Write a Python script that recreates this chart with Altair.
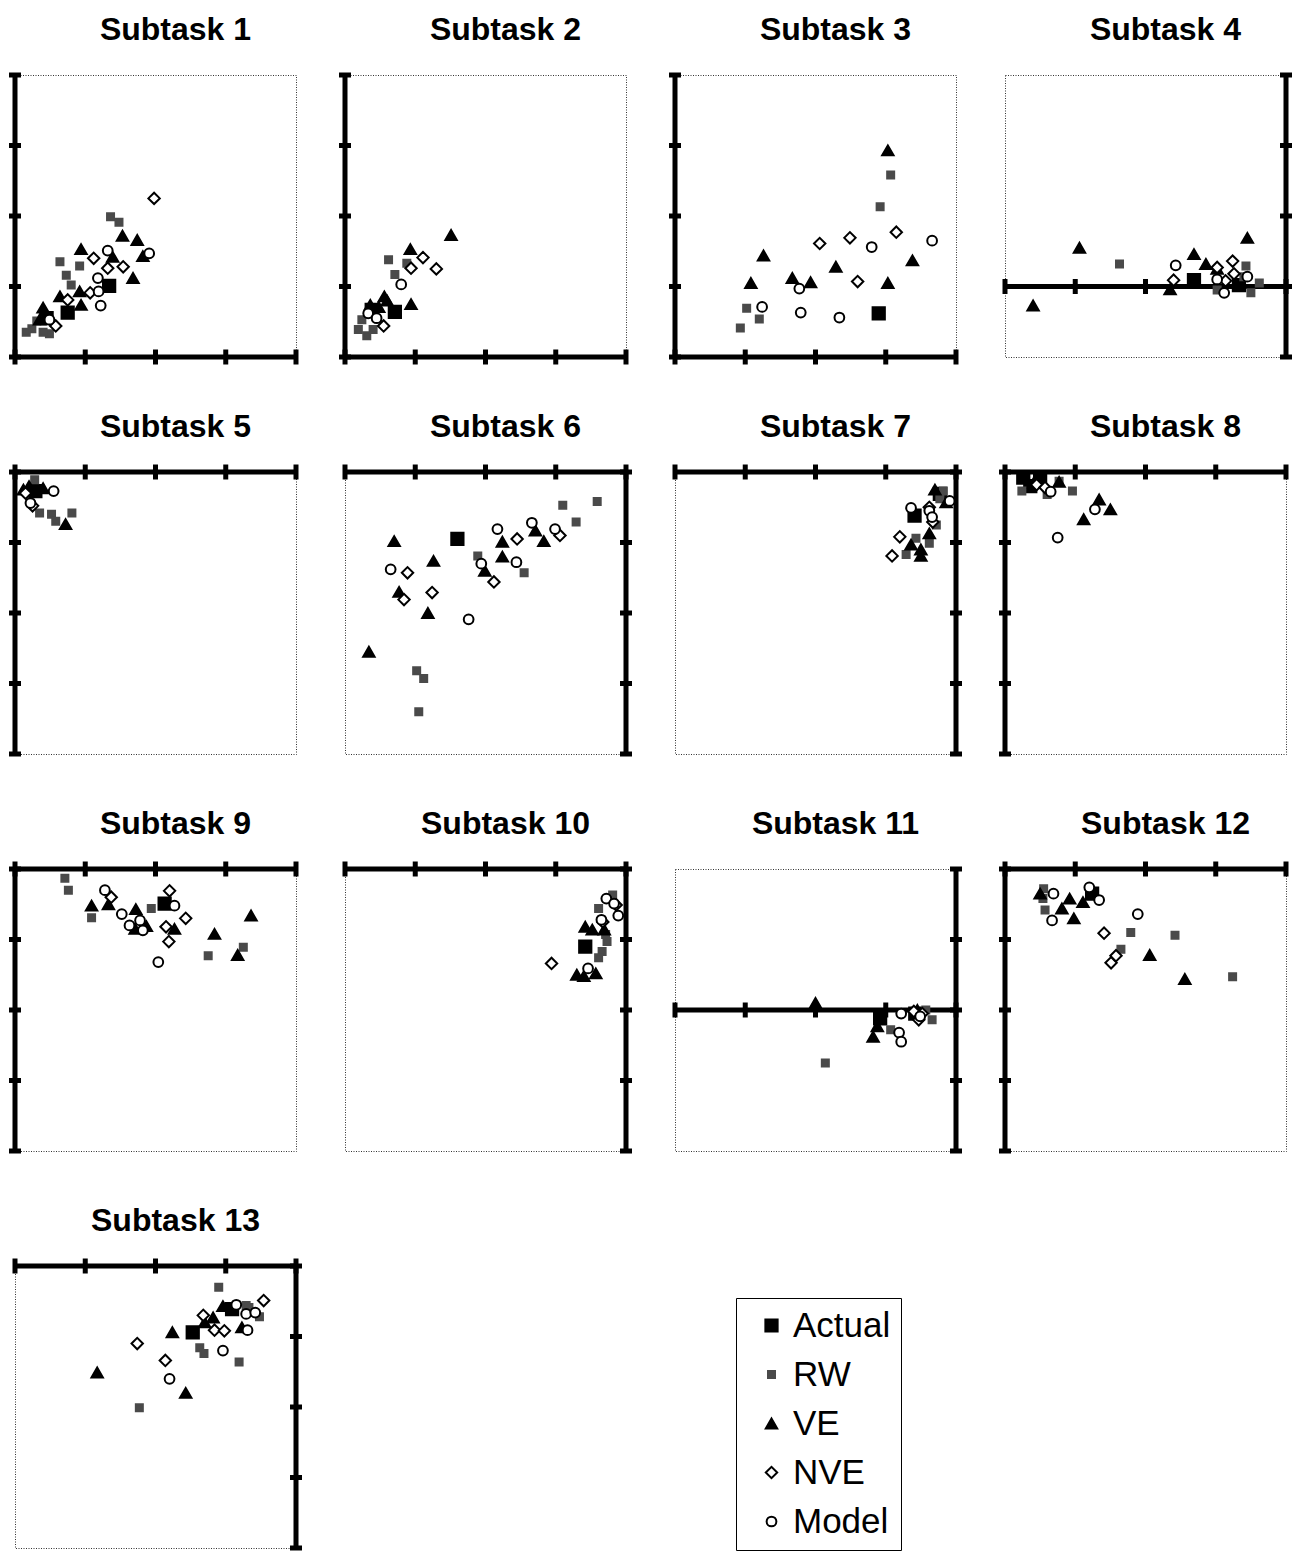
import altair as alt
import pandas as pd

SERIES = ["Actual", "RW", "VE", "NVE", "Model"]
SHAPES = ["square", "square", "triangle-up", "diamond", "circle"]
FILLS = ["#000000", "#4a4a4a", "#000000", "#ffffff", "#ffffff"]
STROKES = ["#000000", "#4a4a4a", "#000000", "#000000", "#000000"]
SIZES = [150, 49, 130, 130, 95]

TITLES = ["Subtask 1", "Subtask 2", "Subtask 3", "Subtask 4", "Subtask 5",
          "Subtask 6", "Subtask 7", "Subtask 8", "Subtask 9", "Subtask 10",
          "Subtask 11", "Subtask 12", "Subtask 13"]

X_DOMAINS = [(0, 4), (0, 4), (0, 4), (-4, 0), (0, 4), (-4, 0), (-4, 0),
             (0, 4), (0, 4), (-4, 0), (-4, 0), (0, 4), (-4, 0)]
Y_DOMAINS = [(0, 4), (0, 4), (0, 4), (-1, 3), (-4, 0), (-4, 0), (-4, 0),
             (-4, 0), (-4, 0), (-4, 0), (-2, 2), (-4, 0), (-4, 0)]

P1 = {
    "Actual": [(1.34, 1.01), (0.75, 0.63), (0.45, 0.55)],
    "RW": [(1.36, 1.99), (1.48, 1.91), (0.64, 1.35), (0.92, 1.29), (0.73, 1.16), (0.80, 1.02),
           (0.24, 0.40), (0.49, 0.33), (0.31, 0.51), (0.16, 0.35), (0.40, 0.35)],
    "VE": [(1.53, 1.72), (1.74, 1.66), (0.94, 1.53), (1.39, 1.42), (1.82, 1.43), (1.68, 1.12),
           (0.92, 0.93), (0.94, 0.74), (0.40, 0.70), (0.64, 0.86), (0.35, 0.53)],
    "NVE": [(1.98, 2.25), (1.12, 1.40), (1.32, 1.26), (1.54, 1.28), (1.07, 0.91), (0.75, 0.81), (0.58, 0.44)],
    "Model": [(1.91, 1.47), (1.19, 0.93), (1.22, 0.73), (1.32, 1.51), (0.49, 0.53), (1.18, 1.12)],
}
P2 = {
    "Actual": [(0.71, 0.64), (0.38, 0.67)],
    "RW": [(0.62, 1.38), (0.88, 1.33), (0.71, 1.17), (0.19, 0.39), (0.31, 0.30), (0.40, 0.39), (0.24, 0.53)],
    "VE": [(1.51, 1.73), (0.93, 1.53), (0.94, 0.75), (0.56, 0.86), (0.48, 0.71), (0.36, 0.74), (0.60, 0.80)],
    "NVE": [(1.11, 1.41), (1.30, 1.25), (0.94, 1.26), (0.55, 0.44)],
    "Model": [(0.80, 1.03), (0.33, 0.62), (0.45, 0.55)],
}
P3 = {
    "Actual": [(2.90, 0.62)],
    "RW": [(3.07, 2.58), (2.92, 2.13), (1.02, 0.69), (1.20, 0.54), (0.93, 0.41)],
    "VE": [(3.03, 2.93), (1.26, 1.44), (1.08, 1.05), (1.67, 1.12), (1.93, 1.06), (2.29, 1.28),
           (3.38, 1.37), (3.03, 1.05)],
    "NVE": [(2.06, 1.61), (2.49, 1.69), (3.15, 1.77), (2.60, 1.07)],
    "Model": [(3.66, 1.65), (2.80, 1.56), (1.77, 0.97), (1.24, 0.71), (1.79, 0.63), (2.34, 0.56)],
}
P4 = {
    "Actual": [(-1.31, 0.09), (-0.67, 0.02)],
    "RW": [(-2.37, 0.32), (-0.57, 0.29), (-0.50, -0.09), (-0.38, 0.05), (-0.60, 0.14), (-0.98, -0.05)],
    "VE": [(-3.60, -0.27), (-2.94, 0.55), (-1.31, 0.46), (-0.55, 0.69), (-1.14, 0.32), (-1.65, -0.04),
           (-0.98, 0.25)],
    "NVE": [(-1.60, 0.09), (-0.76, 0.36), (-0.74, 0.18), (-0.86, 0.08), (-0.98, 0.27)],
    "Model": [(-1.57, 0.30), (-0.88, -0.09), (-0.55, 0.14), (-0.98, 0.10)],
}
P5 = {
    "Actual": [(0.29, -0.27)],
    "RW": [(0.28, -0.11), (0.35, -0.58), (0.52, -0.60), (0.81, -0.58), (0.58, -0.70)],
    "VE": [(0.72, -0.74), (0.12, -0.25), (0.40, -0.23), (0.20, -0.20)],
    "NVE": [(0.25, -0.48), (0.15, -0.30)],
    "Model": [(0.55, -0.27), (0.22, -0.44)],
}
P6 = {
    "Actual": [(-2.40, -0.95)],
    "RW": [(-0.41, -0.42), (-0.90, -0.47), (-0.71, -0.71), (-1.45, -1.43), (-2.11, -1.19),
           (-2.98, -2.82), (-2.88, -2.93), (-2.95, -3.40)],
    "VE": [(-3.30, -0.98), (-2.74, -1.26), (-1.76, -0.99), (-1.76, -1.20), (-1.29, -0.83), (-1.17, -0.98),
           (-2.01, -1.40), (-3.23, -1.70), (-2.82, -2.00), (-3.66, -2.55)],
    "NVE": [(-3.11, -1.43), (-1.55, -0.95), (-0.94, -0.90), (-1.88, -1.56), (-2.76, -1.71), (-3.16, -1.81)],
    "Model": [(-3.35, -1.38), (-1.83, -0.81), (-1.34, -0.72), (-1.01, -0.81), (-1.56, -1.28),
              (-2.06, -1.30), (-2.24, -2.09)],
}
P7 = {
    "Actual": [(-0.59, -0.62), (-0.23, -0.31)],
    "RW": [(-0.18, -0.27), (-0.23, -0.38), (-0.28, -0.75), (-0.38, -1.01), (-0.57, -0.94), (-0.71, -1.17)],
    "VE": [(-0.30, -0.25), (-0.14, -0.43), (-0.50, -1.19), (-0.50, -1.10), (-0.64, -1.03), (-0.38, -0.87)],
    "NVE": [(-0.80, -0.92), (-0.91, -1.19), (-0.38, -0.50), (-0.33, -0.71)],
    "Model": [(-0.38, -0.55), (-0.64, -0.51), (-0.34, -0.64), (-0.09, -0.41)],
}
P8 = {
    "Actual": [(0.36, -0.20), (0.50, -0.11), (0.26, -0.08)],
    "RW": [(0.96, -0.27), (0.77, -0.13), (0.24, -0.27), (0.60, -0.32)],
    "VE": [(1.34, -0.39), (1.50, -0.53), (1.12, -0.67), (0.77, -0.14), (0.41, -0.15)],
    "NVE": [(0.45, -0.18), (0.57, -0.22)],
    "Model": [(1.28, -0.53), (0.75, -0.93), (0.65, -0.28)],
}
P9 = {
    "Actual": [(2.13, -0.49)],
    "RW": [(0.71, -0.13), (0.76, -0.30), (1.09, -0.69), (1.94, -0.56), (2.75, -1.23), (3.25, -1.11)],
    "VE": [(1.09, -0.52), (1.33, -0.50), (1.72, -0.57), (1.71, -0.85), (1.87, -0.81), (2.27, -0.85),
           (2.84, -0.92), (3.36, -0.66), (3.17, -1.22)],
    "NVE": [(1.37, -0.40), (2.20, -0.31), (2.43, -0.70), (2.15, -0.82), (2.19, -1.03)],
    "Model": [(1.28, -0.30), (1.52, -0.64), (1.63, -0.80), (1.78, -0.73), (1.82, -0.87), (2.27, -0.52),
              (2.04, -1.32)],
}
P10 = {
    "Actual": [(-0.58, -1.10)],
    "RW": [(-0.19, -0.37), (-0.39, -0.56), (-0.29, -0.93), (-0.34, -1.17), (-0.39, -1.26), (-0.27, -1.03)],
    "VE": [(-0.58, -0.82), (-0.48, -0.86), (-0.31, -0.86), (-0.70, -1.50), (-0.43, -1.48), (-0.60, -1.52)],
    "NVE": [(-1.06, -1.34), (-0.14, -0.51), (-0.33, -0.75)],
    "Model": [(-0.28, -0.42), (-0.11, -0.66), (-0.35, -0.72), (-0.54, -1.41), (-0.17, -0.49)],
}
P11 = {
    "Actual": [(-1.08, -0.12), (-0.58, -0.05)],
    "RW": [(-1.86, -0.75), (-0.93, -0.28), (-0.34, -0.14), (-0.43, 0.0)],
    "VE": [(-2.0, 0.10), (-1.18, -0.38), (-1.12, -0.23), (-0.55, 0.0)],
    "NVE": [(-0.60, -0.02), (-0.48, -0.05), (-0.53, -0.14)],
    "Model": [(-0.81, -0.32), (-0.78, -0.45), (-0.78, -0.05), (-0.51, -0.09)],
}
P12 = {
    "Actual": [(1.24, -0.35)],
    "RW": [(0.55, -0.28), (0.54, -0.42), (0.57, -0.58), (1.79, -0.90), (2.42, -0.94), (1.65, -1.14),
           (3.24, -1.53)],
    "VE": [(0.50, -0.35), (0.92, -0.42), (0.98, -0.70), (1.11, -0.47), (2.06, -1.22), (2.56, -1.56),
           (0.81, -0.56)],
    "NVE": [(1.41, -0.91), (1.51, -1.33), (1.58, -1.23)],
    "Model": [(0.69, -0.35), (0.67, -0.73), (1.20, -0.26), (1.34, -0.44), (1.89, -0.64)],
}
P13 = {
    "Actual": [(-1.47, -0.94), (-0.91, -0.61)],
    "RW": [(-1.10, -0.30), (-0.71, -0.56), (-0.52, -0.72), (-1.37, -1.16), (-1.31, -1.24), (-0.81, -1.36),
           (-2.23, -2.01), (-0.67, -0.59)],
    "VE": [(-1.04, -0.57), (-1.18, -0.73), (-1.76, -0.94), (-0.77, -0.87), (-2.83, -1.51), (-1.57, -1.80),
           (-1.30, -0.80)],
    "NVE": [(-0.46, -0.49), (-1.32, -0.70), (-1.16, -0.91), (-1.02, -0.92), (-2.26, -1.10), (-1.86, -1.34)],
    "Model": [(-0.85, -0.55), (-0.71, -0.68), (-0.58, -0.66), (-0.69, -0.91), (-1.04, -1.20), (-1.80, -1.60)],
}

PANELS = [P1, P2, P3, P4, P5, P6, P7, P8, P9, P10, P11, P12, P13]

PANEL_W = 281
PANEL_H = 282
ROW_GAP = 115
COL_GAP = 49

LEGEND = alt.Legend(
    title=None, orient="none", legendX=721, legendY=3 * (PANEL_H + ROW_GAP) + 32,
    labelFontSize=35, labelFont="Liberation Sans", labelColor="black",
    padding=10, rowPadding=13, strokeColor="black", fillColor="white",
    symbolOffset=8, labelOffset=4, symbolStrokeWidth=2, symbolOpacity=1,
)


def make_panel(i):
    pts = PANELS[i]
    xd, yd = X_DOMAINS[i], Y_DOMAINS[i]
    rows = [{"series": s, "x": p[0], "y": p[1]} for s in SERIES for p in pts[s]]
    df = pd.DataFrame(rows)
    xs = alt.Scale(domain=list(xd), nice=False, zero=False)
    ys = alt.Scale(domain=list(yd), nice=False, zero=False)

    axes_df = pd.DataFrame({"x": [xd[0], 0], "x2": [xd[1], 0], "y": [0, yd[0]], "y2": [0, yd[1]]})
    xt_df = pd.DataFrame({"x": list(range(xd[0], xd[1] + 1))})
    xt_df["y"] = 0
    yt_df = pd.DataFrame({"y": list(range(yd[0], yd[1] + 1))})
    yt_df["x"] = 0

    axes = alt.Chart(axes_df).mark_rule(strokeWidth=5, color="black", clip=False).encode(
        x=alt.X("x:Q", scale=xs, axis=None), x2="x2:Q",
        y=alt.Y("y:Q", scale=ys, axis=None), y2="y2:Q")
    xticks = alt.Chart(xt_df).mark_tick(orient="vertical", size=15, thickness=5, color="black",
                                        opacity=1, clip=False).encode(
        x=alt.X("x:Q", scale=xs, axis=None), y=alt.Y("y:Q", scale=ys, axis=None))
    yticks = alt.Chart(yt_df).mark_tick(orient="horizontal", size=12, thickness=5, color="black",
                                        opacity=1, clip=False).encode(
        x=alt.X("x:Q", scale=xs, axis=None), y=alt.Y("y:Q", scale=ys, axis=None))
    points = alt.Chart(df).mark_point(filled=True, opacity=1, strokeWidth=2).encode(
        x=alt.X("x:Q", scale=xs, axis=None),
        y=alt.Y("y:Q", scale=ys, axis=None),
        shape=alt.Shape("series:N", scale=alt.Scale(domain=SERIES, range=SHAPES), legend=LEGEND),
        fill=alt.Fill("series:N", scale=alt.Scale(domain=SERIES, range=FILLS), legend=LEGEND),
        stroke=alt.Stroke("series:N", scale=alt.Scale(domain=SERIES, range=STROKES), legend=LEGEND),
        size=alt.Size("series:N", scale=alt.Scale(type="ordinal", domain=SERIES, range=SIZES),
                      legend=LEGEND),
    )
    top_axis = yd[1] == 0
    title = alt.Title(TITLES[i], fontSize=32, font="Liberation Sans", fontWeight="bold",
                      color="black", anchor="middle", dx=20, baseline="alphabetic",
                      offset=1, dy=5 if top_axis else 0)
    return alt.layer(axes, xticks, yticks, points).properties(
        width=PANEL_W, height=PANEL_H, title=title)


panels = [make_panel(i) for i in range(len(PANELS))]

chart = alt.concat(*panels, columns=4, spacing=alt.RowColnumber(row=ROW_GAP, column=COL_GAP),
                   bounds="flush").resolve_scale(
    x="independent", y="independent", shape="shared", fill="shared", stroke="shared", size="shared"
).configure_view(stroke="#333333", strokeDash=[1, 1.5], strokeWidth=1).properties(
    padding={"left": 0, "right": 0, "top": 5, "bottom": 0})

chart.save("out.html", embed_options={"renderer": "svg", "actions": False})
